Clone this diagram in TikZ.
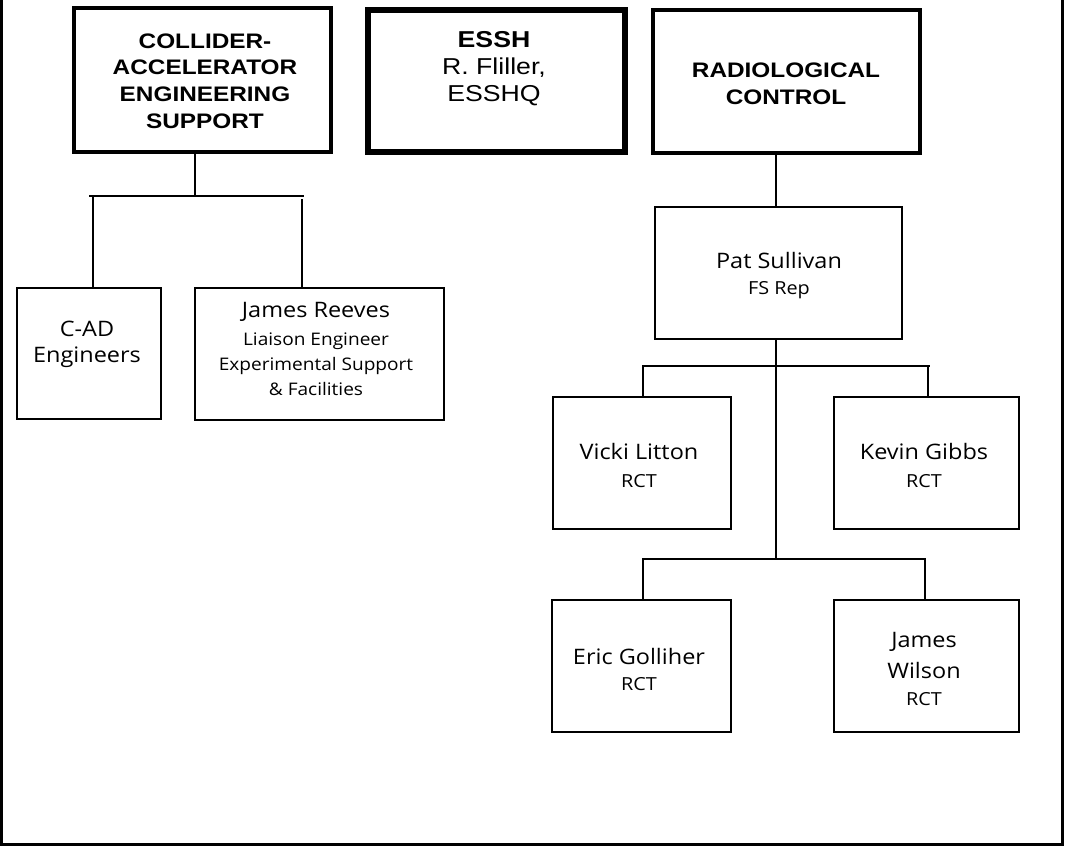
\documentclass[tikz,border=0pt]{standalone}
\usepackage{fontspec}
\setmainfont{Liberation Sans}
\newfontfamily\hdfont[FakeStretch=1.16]{Liberation Sans}
\newfontfamily\bdfont[FakeStretch=1.1]{Open Sans}
\begin{document}
\begin{tikzpicture}[x=0.75pt,y=-0.75pt,
  headbox/.style={draw,line width=3pt,inner sep=0pt,minimum width=#1,minimum height=107.5pt},
  esshbox/.style={draw,line width=4.5pt,inner sep=0pt,minimum width=192.75pt,minimum height=106.5pt},
  persbox/.style={draw,line width=1.5pt,inner sep=0pt,minimum height=99pt,minimum width=#1},
  headtxt/.style={align=center,inner sep=0pt,anchor=base,font=\hdfont\bfseries\fontsize{15.75pt}{20pt}\selectfont},
  essht/.style={align=center,inner sep=0pt,anchor=base,font=\hdfont\fontsize{17.25pt}{20.25pt}\selectfont},
  perstxt/.style={align=center,inner sep=0pt,anchor=base,font=\bdfont\fontsize{16pt}{19.5pt}\selectfont},
  conn/.style={line width=1.5pt},
  bar/.style={line width=1.1pt}]
\useasboundingbox (0,0) rectangle (1065,846);
% outer frame (open at top)
\draw[line width=2.25pt] (1.5,0) -- (1.5,844) -- (1062,844) -- (1062,0);
% top boxes
\node[headbox=192.75pt] (caes) at (202.5,80) {};
\node[esshbox] (essh) at (496.5,81) {};
\node[headbox=200.25pt] (radcon) at (786.5,81.5) {};
\node[headtxt] (caes-t) at (205,128) {COLLIDER-\\ACCELERATOR\\ENGINEERING\\SUPPORT};
\node[essht] (essh-t) at (494,101) {\textbf{ESSH}\\R. Fliller,\\ESSHQ};
\node[headtxt] (radcon-t) at (786,104) {RADIOLOGICAL\\CONTROL};
% left branch boxes
\node[persbox=108pt,minimum height=98.25pt] (cad) at (89,353.5) {};
\node[persbox=186.75pt] (reeves) at (319.5,354) {};
\node[perstxt] (cad-t) at (87,362) {C-AD\\Engineers};
\node[perstxt,font=\bdfont\fontsize{16pt}{18.75pt}\selectfont] (reeves-t) at (316,395)
  {James Reeves\\[2pt]{\fontsize{13pt}{18.75pt}\selectfont Liaison Engineer}\\{\fontsize{13pt}{18.75pt}\selectfont Experimental Support}\\{\fontsize{13pt}{18.75pt}\selectfont \& Facilities}};
% right branch boxes
\node[persbox=185.25pt] (pat) at (778.5,273) {};
\node[persbox=133.5pt] (vicki) at (642,463) {};
\node[persbox=138.75pt] (kevin) at (926.5,463) {};
\node[persbox=134.25pt] (eric) at (641.5,666) {};
\node[persbox=138.75pt] (wilson) at (926.5,666) {};
\node[perstxt] (pat-t) at (779,294) {Pat Sullivan\\{\fontsize{13.5pt}{19.5pt}\selectfont FS Rep}};
\node[perstxt,font=\bdfont\fontsize{16pt}{21pt}\selectfont] (vicki-t) at (639,487) {Vicki Litton\\{\fontsize{13.5pt}{21pt}\selectfont RCT}};
\node[perstxt,font=\bdfont\fontsize{16pt}{21pt}\selectfont] (kevin-t) at (924,487) {Kevin Gibbs\\{\fontsize{13.5pt}{21pt}\selectfont RCT}};
\node[perstxt] (eric-t) at (639,690) {Eric Golliher\\{\fontsize{13.5pt}{19.5pt}\selectfont RCT}};
\node[perstxt,font=\bdfont\fontsize{16pt}{20.25pt}\selectfont] (wilson-t) at (924,705) {James\\[2.5pt]Wilson\\{\fontsize{13.5pt}{20.25pt}\selectfont RCT}};
% connector coordinates
\coordinate (v1) at (195,196);
\coordinate (h1l) at (89,196);
\coordinate (h1r) at (304,196);
\coordinate (v1l) at (93,196);
\coordinate (v1r) at (302,199);
\coordinate (v2) at (776,366);
\coordinate (h2l) at (642,366);
\coordinate (h2r) at (930,366);
\coordinate (v2l) at (643,366);
\coordinate (v2r) at (928,366);
\coordinate (v3) at (776,559);
\coordinate (h3l) at (642,559);
\coordinate (h3r) at (926,559);
\coordinate (v3l) at (643,559);
\coordinate (v3r) at (925,559);
% left connectors
\draw[conn] (caes.south -| v1) -- (v1);
\draw[bar] (h1l) -- (h1r);
\draw[conn] (v1l) -- (v1l |- cad.north);
\draw[conn] (v1r) -- (v1r |- reeves.north);
% right connectors
\draw[conn] (radcon.south -| v2) -- (pat.north -| v2);
\draw[conn] (pat.south -| v2) -- (v3);
\draw[bar] (h2l) -- (h2r);
\draw[bar] (v2l) -- (v2l |- vicki.north);
\draw[bar] (v2r) -- (v2r |- kevin.north);
\draw[bar] (h3l) -- (h3r);
\draw[bar] (v3l) -- (v3l |- eric.north);
\draw[bar] (v3r) -- (v3r |- wilson.north);
\end{tikzpicture}
\end{document}
